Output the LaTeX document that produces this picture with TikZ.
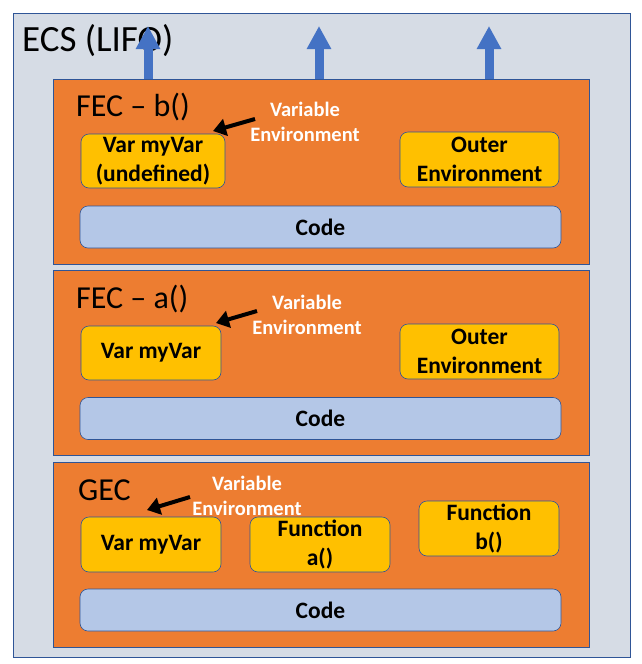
\documentclass[tikz,border=0pt]{standalone}
\usepackage{fontspec}
\setmainfont{Carlito}
\usetikzlibrary{arrows.meta,positioning}
\definecolor{ecsfond}{HTML}{D6DCE5}
\definecolor{cadre}{HTML}{2F5597}
\definecolor{orangefec}{HTML}{ED7D31}
\definecolor{jaune}{HTML}{FFC000}
\definecolor{bleucode}{HTML}{B4C7E7}
\definecolor{bleupile}{HTML}{4472C4}
\tikzset{
  pilebox/.style={draw=cadre,line width=0.8pt,fill=ecsfond,minimum width=617pt,minimum height=644pt,inner sep=0pt},
  contexte/.style={draw=cadre,line width=0.7pt,fill=orangefec,minimum width=536pt,minimum height=185pt,inner sep=0pt},
  varbox/.style={draw=cadre,line width=0.6pt,rounded corners=8pt,fill=jaune,align=center,
                 font=\fontsize{23.5}{28.5}\selectfont\bfseries,minimum width=140pt,minimum height=55pt,inner sep=0pt},
  codebox/.style={draw=cadre,line width=0.6pt,rounded corners=8pt,fill=bleucode,
                  font=\fontsize{23.5}{28}\selectfont\bfseries,minimum width=481pt,minimum height=42pt,inner sep=0pt},
  titre/.style={anchor=west,font=\fontsize{32}{36}\selectfont,inner sep=0pt},
  envtexte/.style={text=white,align=center,font=\fontsize{20.5}{25.5}\selectfont\bfseries,inner sep=0pt},
  fleche/.style={-{Triangle[length=13pt,width=17pt]},line width=4pt,black},
  pile/.style={-{Triangle[length=23pt,width=23pt]},line width=9pt,bleupile},
}

\begin{document}
\begin{tikzpicture}[x=1pt,y=-1pt]
  \useasboundingbox (0,0) rectangle (642,664);
  \node[pilebox] (ecs) at (321.5,335) {};
  \node[titre,font=\fontsize{37}{42}\selectfont] (ecstitre) at (22,41) {ECS (LIFO)};
  % contextes
  \node[contexte] (fecb) at (321,171.5) {};
  \node[contexte] (feca) at (321,363) {};
  \node[contexte] (gec) at (321,554.5) {};
  % fleches de la pile
  \foreach \x/\nom in {148/p1,319/p2,489/p3}{
    \coordinate (\nom) at (\x,26);
    \draw[pile] (\nom |- fecb.north) -- (\nom);
  }
  % FEC b()
  \node[titre] (titreb) at (76,107) {FEC -- b()};
  \node[varbox,minimum width=144pt,minimum height=54pt] (varb) at (153,161) {Var myVar\\(undefined)};
  \node[varbox,minimum width=159pt] (outerb) at (479.5,159.5) {Outer\\Environment};
  \node[codebox] (codeb) at (320.5,227) {Code};
  \node[envtexte] (envb) at (305,122) {Variable\\Environment};
  \coordinate (db) at (255,119);
  \coordinate (fb) at (213,131);
  \draw[fleche] (db) -- (fb);
  % FEC a()
  \node[titre] (titrea) at (76,299) {FEC -- a()};
  \node[varbox,minimum height=54pt] (vara) at (151,353) {Var myVar};
  \node[varbox,minimum width=159pt] (outera) at (479.5,351.5) {Outer\\Environment};
  \node[codebox] (codea) at (320.5,418.5) {Code};
  \node[envtexte] (enva) at (307,315) {Variable\\Environment};
  \coordinate (da) at (257,311);
  \coordinate (fa) at (216,323);
  \draw[fleche] (da) -- (fa);
  % GEC
  \node[titre] (titreg) at (78,490) {GEC};
  \node[varbox] (varg) at (151,544.5) {Var myVar};
  \node[varbox] (fonca) at (320,544.5) {Function\\a()};
  \node[varbox] (foncb) at (489,528.5) {Function\\b()};
  \node[codebox] (codeg) at (320.5,610) {Code};
  \node[envtexte] (envg) at (247,496) {Variable\\Environment};
  \coordinate (dg) at (190,497);
  \coordinate (fg) at (147,510);
  \draw[fleche] (dg) -- (fg);
\end{tikzpicture}
\end{document}
